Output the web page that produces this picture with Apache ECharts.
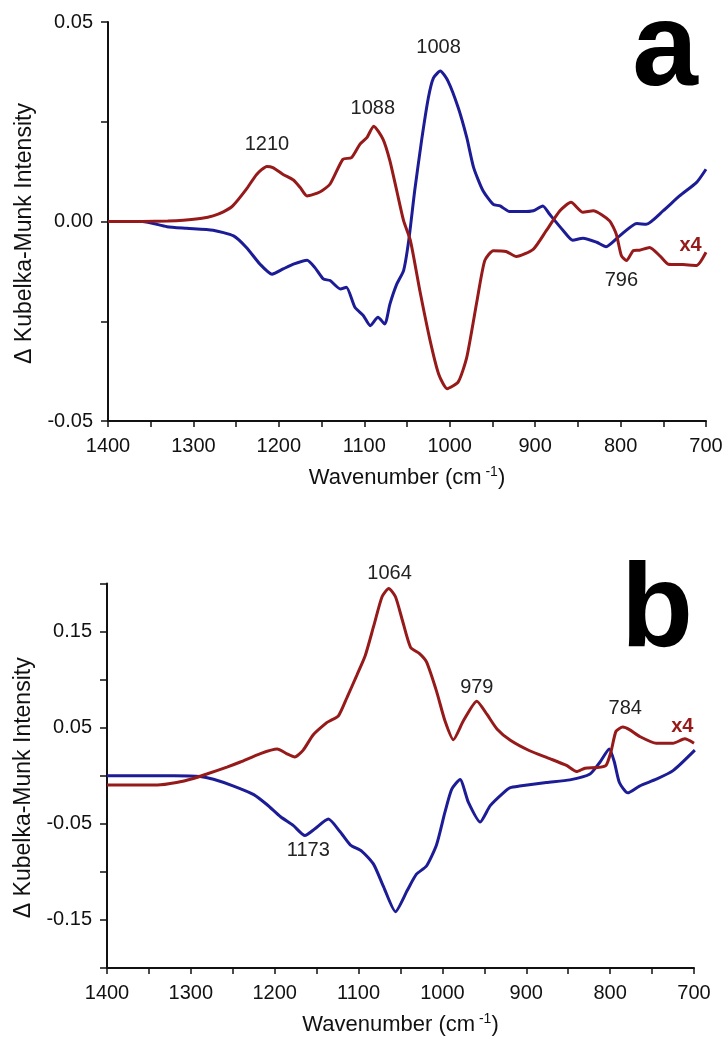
<!DOCTYPE html>
<html>
<head>
<meta charset="utf-8">
<title>Kubelka-Munk difference spectra</title>
<script src="https://cdn.jsdelivr.net/npm/echarts@6/dist/echarts.min.js"></script>
<style>
	html, body { margin: 0; padding: 0; background: #fff; }
	#chart { width: 726px; height: 1037px; }
</style>
</head>
<body>
<div id="chart"></div>
<script>
	"use strict";

	/*----- panel a : wavenumber, intensity -----*/
	var aRed = [
		[1400, 0], [1360, 0], [1330, 0.0001], [1312, 0.0003], [1290, 0.0008], [1277, 0.0014], [1265, 0.0024],
		[1254, 0.0039], [1238, 0.0081], [1226, 0.0118], [1214, 0.0138], [1207, 0.0135], [1195, 0.0118],
		[1183, 0.0104], [1175, 0.0085], [1167, 0.0064], [1152, 0.0074], [1140, 0.0094], [1125, 0.0156],
		[1115, 0.016], [1105, 0.0194], [1097, 0.021], [1089, 0.0239], [1078, 0.0206], [1070, 0.0152],
		[1062, 0.0077], [1054, 0.0002], [1046, -0.0048], [1035, -0.0173], [1023, -0.0298], [1013, -0.0382],
		[1003, -0.0419], [990, -0.0402], [980, -0.034], [968, -0.0198], [959, -0.0098], [949, -0.0073],
		[934, -0.0075], [922, -0.0088], [902, -0.0069], [887, -0.0023], [871, 0.0027], [858, 0.0048],
		[844, 0.0023], [832, 0.0027], [813, 0.0002], [805, -0.0032], [799, -0.0086], [793, -0.0098],
		[785, -0.0073], [778, -0.0072], [766, -0.0065], [754, -0.0086], [744, -0.0107], [727, -0.0108],
		[711, -0.011], [700, -0.0077]
	];
	var aBlue = [
		[1400, 0], [1360, 0], [1331, -0.0013], [1308, -0.0017], [1277, -0.0022], [1253, -0.0036], [1238, -0.0065],
		[1222, -0.0107], [1208, -0.0132], [1195, -0.0119], [1183, -0.0107], [1167, -0.0097], [1158, -0.0115],
		[1148, -0.0144], [1140, -0.0148], [1128, -0.0169], [1121, -0.0165], [1111, -0.0215], [1101, -0.0236],
		[1093, -0.0261], [1084, -0.024], [1076, -0.0257], [1070, -0.0207], [1062, -0.0157], [1054, -0.0123],
		[1048, -0.0048], [1041, 0.0077], [1033, 0.0202], [1025, 0.031], [1019, 0.036], [1011, 0.0377],
		[1002, 0.0352], [990, 0.0285], [980, 0.021], [972, 0.0135], [961, 0.0077], [949, 0.0043],
		[941, 0.0039], [930, 0.0025], [914, 0.0025], [902, 0.0027], [891, 0.0039], [883, 0.0018],
		[867, -0.0023], [856, -0.0047], [844, -0.0042], [828, -0.0052], [817, -0.0063], [801, -0.0036],
		[781, -0.0005], [770, -0.0007], [750, 0.0027], [731, 0.0064], [711, 0.0098], [700, 0.0131]
	];
	var aLabels = ['1210', '1088', '1008', '796'];
	var aLabelX = [1214, 1090, 1013, 799];
	var aLabelY = [0.0192, 0.0282, 0.0435, -0.0147];
	var aScale = [718, -0.0061];

	/*----- panel b -----*/
	var bRed = [
		[1400, -0.0096], [1340, -0.0096], [1317, -0.007], [1297, -0.0028], [1281, 0.0018], [1257, 0.009],
		[1241, 0.0143], [1217, 0.0231], [1197, 0.0278], [1186, 0.0231], [1176, 0.0196], [1166, 0.0267],
		[1154, 0.0427], [1138, 0.0552], [1134, 0.0572], [1124, 0.0623], [1114, 0.081], [1102, 0.1047],
		[1092, 0.1251], [1082, 0.1556], [1072, 0.1862], [1064, 0.1948], [1056, 0.1862], [1048, 0.1625],
		[1038, 0.1336], [1027, 0.1268], [1019, 0.1184], [1007, 0.0878], [997, 0.0572], [987, 0.0375],
		[975, 0.0572], [959, 0.0776], [947, 0.064], [935, 0.0487], [919, 0.0369], [896, 0.026],
		[872, 0.0178], [852, 0.0107], [840, 0.0043], [830, 0.0079], [816, 0.0085], [805, 0.0107],
		[799, 0.025], [793, 0.0463], [785, 0.0506], [777, 0.048], [765, 0.041], [745, 0.0338],
		[725, 0.0338], [711, 0.0384], [700, 0.0338]
	];
	var bBlue = [
		[1400, 0], [1320, 0], [1289, -0.0007], [1273, -0.0036], [1249, -0.0107], [1225, -0.0196],
		[1209, -0.0302], [1193, -0.0427], [1178, -0.0516], [1164, -0.0622], [1152, -0.0551], [1136, -0.0451],
		[1122, -0.0583], [1110, -0.0718], [1096, -0.0786], [1082, -0.0922], [1070, -0.1159], [1056, -0.1414],
		[1042, -0.1194], [1031, -0.1024], [1019, -0.0939], [1007, -0.0718], [997, -0.0379], [989, -0.0141],
		[979, -0.0039], [969, -0.0277], [955, -0.0481], [943, -0.0311], [927, -0.0175], [919, -0.0124],
		[908, -0.0107], [876, -0.007], [848, -0.0043], [824, 0.0018], [812, 0.0143], [801, 0.0278],
		[795, 0.0143], [789, -0.007], [779, -0.0178], [765, -0.0107], [745, -0.0036], [725, 0.0053],
		[699, 0.0267]
	];
	var bLabels = ['1064', '979', '784', '1173'];
	var bLabelX = [1063, 959, 782, 1160];
	var bLabelY = [0.2099, 0.0919, 0.0704, -0.0782];
	var bScale = [714, 0.0516];

	var redColor = '#961a1a';
	var blueColor = '#1c1c96';
	var fontFam = '"Liberation Sans", Arial, sans-serif';

	function pointsOf(names, xs, ys) {
		var out = [];
		for (var i = 0; i < names.length; i++) {
			out.push({ name: names[i], value: [xs[i], ys[i]] });
		}
		return out;
	}

	function xAxisOf(idx, gap) {
		return {
			type: 'value',
			gridIndex: idx,
			inverse: true,
			min: 700,
			max: 1400,
			interval: 50,
			name: '{n|Wavenumber (cm}{s| -1}{n|)}',
			nameLocation: 'middle',
			nameGap: gap,
			nameTextStyle: {
				rich: {
					n: { fontSize: 22, color: '#111', fontFamily: fontFam, lineHeight: 26 },
					s: { fontSize: 14, color: '#111', fontFamily: fontFam, verticalAlign: 'top', lineHeight: 26 }
				}
			},
			axisLine: { onZero: false, lineStyle: { color: '#111', width: 2 } },
			axisTick: { length: 6, lineStyle: { color: '#111', width: 1.5 } },
			axisLabel: {
				margin: 15,
				fontSize: 20,
				color: '#111',
				fontFamily: fontFam,
				formatter: function (v) { return v % 100 === 0 ? String(v) : ''; }
			},
			splitLine: { show: false }
		};
	}

	// labelled ticks: panel a every 0.05, panel b the odd multiples of 0.05
	function yAxisOf(idx, min, max, step, oddOnly) {
		return {
			type: 'value',
			gridIndex: idx,
			min: min,
			max: max,
			interval: step,
			name: 'Δ Kubelka-Munk Intensity',
			nameLocation: 'middle',
			nameRotate: 90,
			nameGap: 70,
			nameTextStyle: { fontSize: 23, color: '#111', fontFamily: fontFam, padding: [0, 24, 0, 0] },
			axisLine: { show: true, onZero: false, lineStyle: { color: '#111', width: 2 } },
			axisTick: { show: true, length: 7, lineStyle: { color: '#111', width: 1.5 } },
			axisLabel: {
				margin: 15,
				fontSize: 20,
				color: '#111',
				fontFamily: fontFam,
				formatter: function (v) {
					var k = Math.abs(Math.round(v * 1000));
					var show = oddOnly ? (k % 100 === 50) : (k % 50 === 0);
					return show ? v.toFixed(2) : '';
				}
			},
			splitLine: { show: false }
		};
	}

	function lineOf(idx, data, color) {
		return {
			type: 'line',
			xAxisIndex: idx,
			yAxisIndex: idx,
			data: data,
			showSymbol: false,
			smooth: 0.2,
			silent: true,
			lineStyle: { color: color, width: 3 }
		};
	}

	function labelsOf(idx, data, color, weight) {
		return {
			type: 'scatter',
			xAxisIndex: idx,
			yAxisIndex: idx,
			data: data,
			symbolSize: 0,
			silent: true,
			clip: false,
			itemStyle: { opacity: 1 },
			label: {
				show: true,
				position: 'inside',
				formatter: '{b}',
				fontSize: 20,
				fontWeight: weight,
				color: color,
				opacity: 1,
				textBorderWidth: 0,
				fontFamily: fontFam
			}
		};
	}

	var option = {
		animation: false,
		backgroundColor: '#fff',
		grid: [
			{ left: 108, top: 22, width: 598, height: 399 },
			{ left: 107, top: 583.5, width: 587, height: 391.5 }
		],
		xAxis: [xAxisOf(0, 44), xAxisOf(1, 44)],
		yAxis: [
			yAxisOf(0, -0.05, 0.05, 0.025, false),
			yAxisOf(1, -0.2, 0.2, 0.05, true)
		],
		graphic: [
			{ type: 'text', x: 665, y: 52, style: { text: 'a', font: 'bold 118px ' + fontFam, fill: '#000', align: 'center', verticalAlign: 'middle' } },
			{ type: 'text', x: 657, y: 613, style: { text: 'b', font: 'bold 118px ' + fontFam, fill: '#000', align: 'center', verticalAlign: 'middle' } }
		],
		series: [
			lineOf(0, aBlue, blueColor),
			lineOf(0, aRed, redColor),
			lineOf(1, bBlue, blueColor),
			lineOf(1, bRed, redColor),
			labelsOf(0, pointsOf(aLabels, aLabelX, aLabelY), '#222', 'normal'),
			labelsOf(0, [{ name: 'x4', value: aScale }], redColor, 'bold'),
			labelsOf(1, pointsOf(bLabels, bLabelX, bLabelY), '#222', 'normal'),
			labelsOf(1, [{ name: 'x4', value: bScale }], redColor, 'bold')
		]
	};

	var chart = echarts.init(document.getElementById('chart'));
	chart.setOption(option);
	window.addEventListener('resize', function () {
		chart.resize();
	});
</script>
</body>
</html>
